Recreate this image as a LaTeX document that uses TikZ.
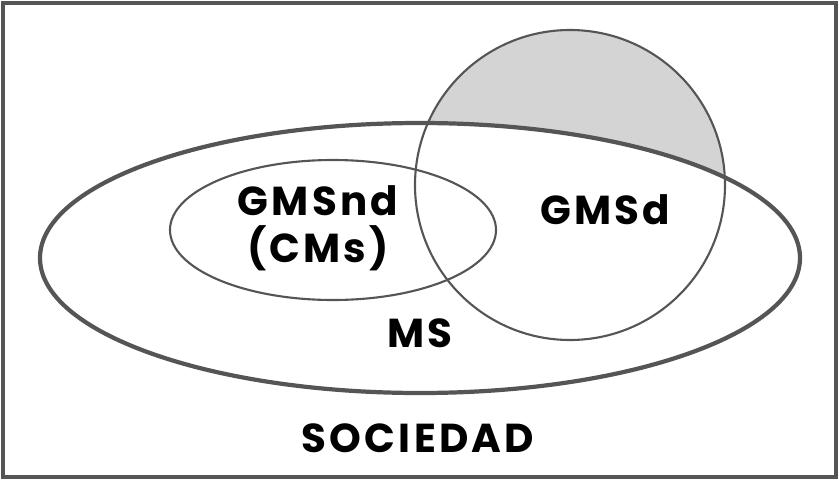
\documentclass[tikz,border=0pt]{standalone}
\usepackage{fontspec}
\setmainfont{Poppins}
\newfontfamily\labelfont[LetterSpace=8]{Poppins}
\definecolor{linegray}{HTML}{555555}
\definecolor{shadegray}{HTML}{D4D4D4}

\begin{document}
\begin{tikzpicture}[
    x=0.02cm, y=-0.02cm,
    every node/.style={
        font=\labelfont\fontsize{23}{27}\selectfont\bfseries,
        text=black, align=center,
    },
    thinline/.style={draw=linegray, line width=1.2pt},
    thickline/.style={draw=linegray, line width=2.4pt},
]
    \useasboundingbox (0,0) rectangle (839,480);
    % shaded part of the circle outside MS
    \begin{scope}
        \clip (570,185) circle [radius=155];
        \fill[shadegray] (570,185) circle [radius=155];
        \fill[white] (420,258) ellipse [x radius=380, y radius=135];
    \end{scope}
    \draw[thickline] (3,3) rectangle (836,477);
    \draw[thickline] (420,258) ellipse [x radius=380, y radius=135];
    \draw[thinline] (333,230) ellipse [x radius=163, y radius=70];
    \draw[thinline] (570,185) circle [radius=155];
    \node (gmsnd) at (318,228) {GMSnd\\(CMs)};
    \node (gmsd) at (605,210) {GMSd};
    \node (ms) at (420,333) {MS};
    \node (sociedad) at (418,438) {SOCIEDAD};
\end{tikzpicture}
\end{document}
